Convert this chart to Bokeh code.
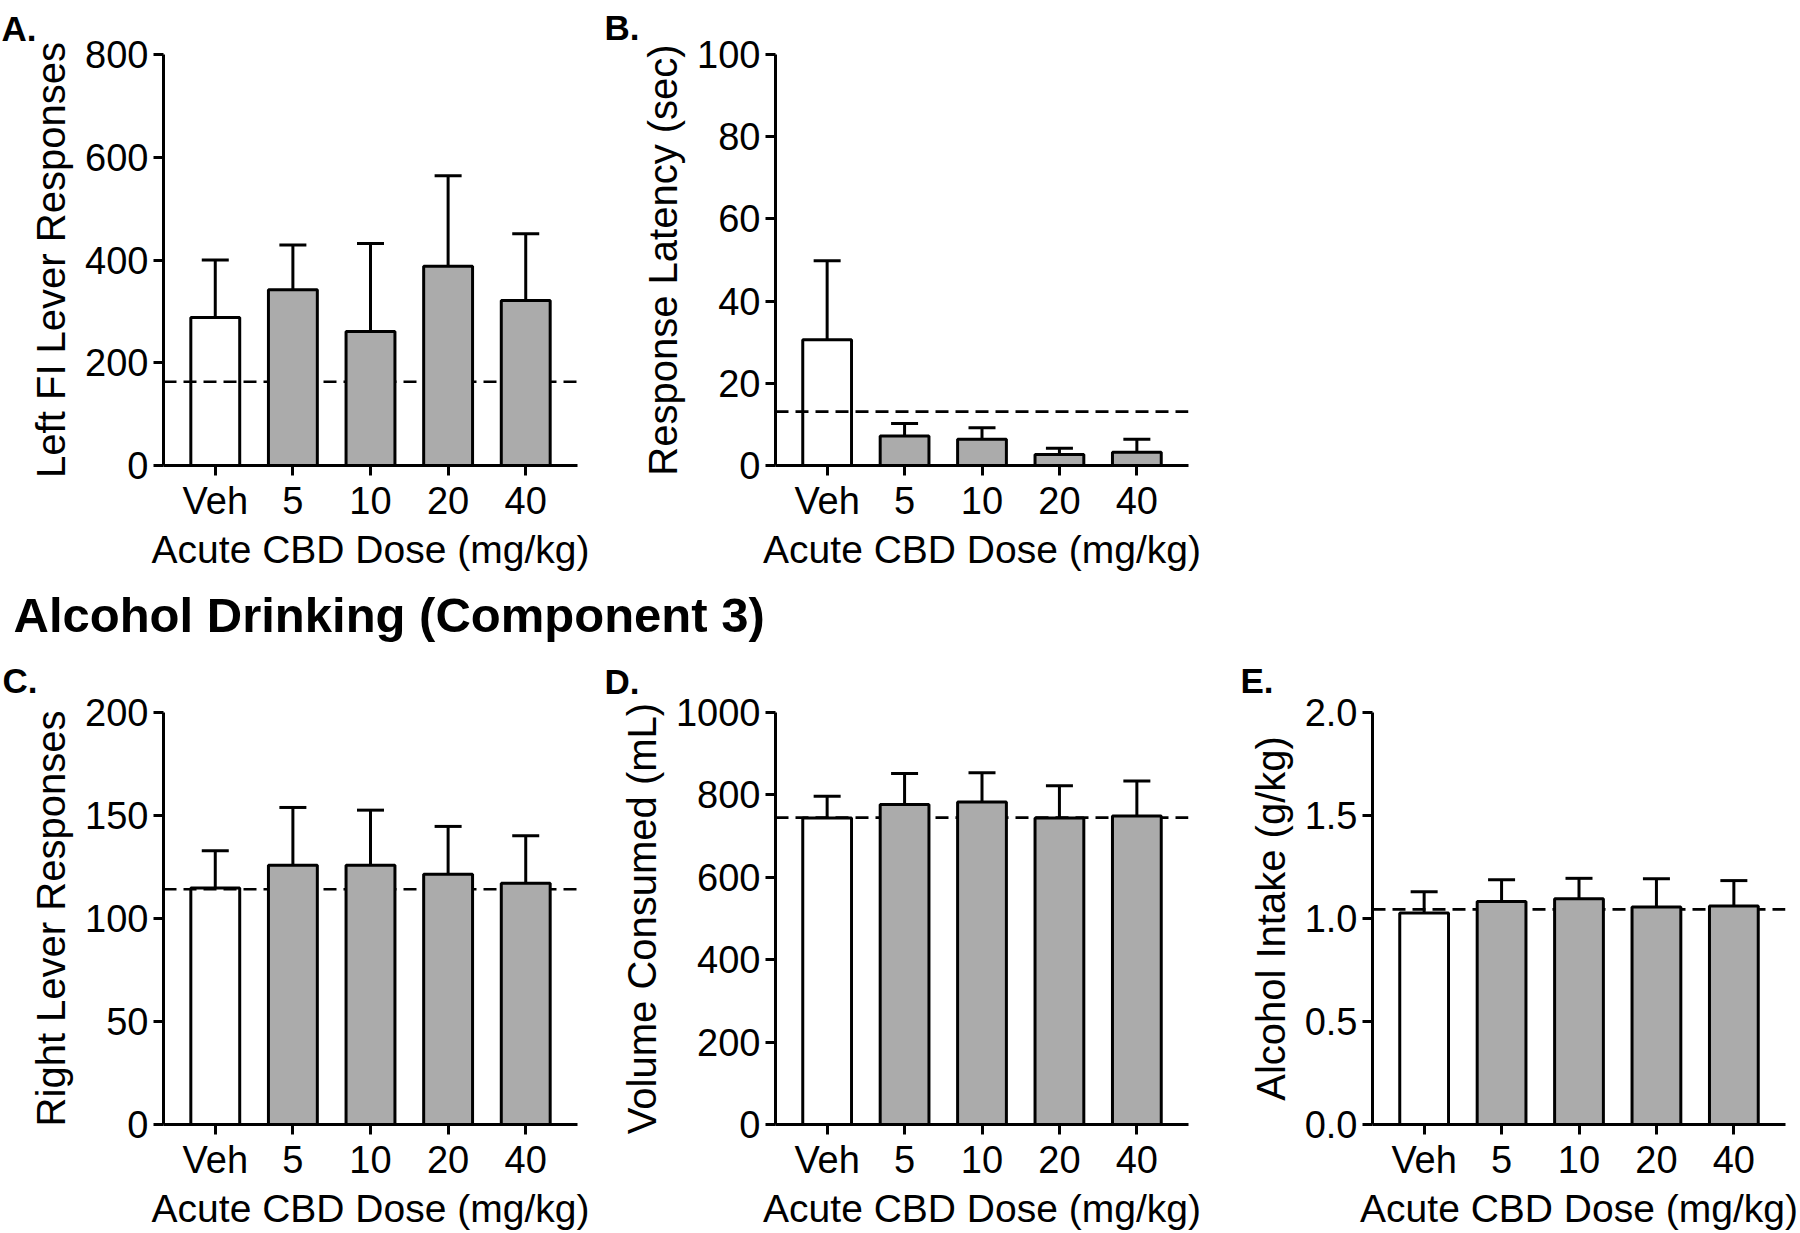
from bokeh.plotting import figure
from bokeh.layouts import column, row
from bokeh.models import ColumnDataSource, Span, Whisker, TeeHead, FixedTicker, Range1d, Title
from bokeh.core.properties import value
from bokeh.embed import file_html
from bokeh.resources import INLINE

# ---------------- data ----------------
doses = ["Veh", "5", "10", "20", "40"]

a_mean = [288, 342, 261, 388, 321]
a_upper = [400, 429, 432, 564, 451]
a_ref = 163

b_mean = [30.6, 7.2, 6.4, 2.7, 3.2]
b_upper = [49.8, 10.2, 9.2, 4.2, 6.4]
b_ref = 13.1

c_mean = [114.8, 125.8, 125.8, 121.5, 117.1]
c_upper = [132.9, 153.9, 152.6, 144.7, 140.2]
c_ref = 114.2

d_mean = [744, 777, 783, 744, 749]
d_upper = [797, 852, 854, 822, 834]
d_ref = 745

e_mean = [1.027, 1.083, 1.096, 1.056, 1.061]
e_upper = [1.130, 1.188, 1.195, 1.193, 1.184]
e_ref = 1.044

a_ticks = [0, 200, 400, 600, 800]
b_ticks = [0, 20, 40, 60, 80, 100]
c_ticks = [0, 50, 100, 150, 200]
d_ticks = [0, 200, 400, 600, 800, 1000]
e_ticks = [0, 0.5, 1.0, 1.5, 2.0]
e_tick_labels = ["0.0", "0.5", "1.0", "1.5", "2.0"]

xlabel = "Acute CBD Dose (mg/kg)"
section_title = "Alcohol Drinking (Component 3)"
FONT = "Liberation Sans"
GRAY = "#ababab"
MID = 0.3465  # strip text is anchored near its middle: baseline sits this many ems lower


def panel(width, height, ml, mr, mt, mb, ymax, ticks, ylabel, means, upper, ref,
          letter, letter_x, letter_standoff, tick_labels=None):
    n = len(doses)
    xs = list(range(n))
    p = figure(width=width, height=height,
               x_range=Range1d(-0.667, n - 1 + 0.667), y_range=Range1d(0, ymax),
               output_backend="svg", toolbar_location=None, tools="", title=None,
               min_border_left=ml, min_border_right=mr,
               min_border_top=mt, min_border_bottom=mb)
    p.outline_line_color = None
    p.xgrid.visible = False
    p.ygrid.visible = False
    p.background_fill_color = "white"
    p.border_fill_color = "white"

    # panel letter, as a left-aligned title pulled back to the figure's left edge
    p.add_layout(Title(text=letter, align="left", vertical_align="top",
                       offset=letter_x - ml, standoff=letter_standoff,
                       text_font=FONT, text_font_size="35px", text_font_style="bold",
                       text_color="black"), "above")

    # dashed reference line (behind the bars)
    p.add_layout(Span(location=ref, dimension="width", line_color="black",
                      line_width=2.7, line_dash="13 7", level="underlay"))

    fills = [None] + [GRAY] * (n - 1)
    src = ColumnDataSource(dict(x=xs, top=means, upper=upper, fill=fills))
    p.vbar(x="x", top="top", width=0.63, source=src, fill_color="fill",
           line_color="black", line_width=3)
    p.add_layout(Whisker(source=src, base="x", lower="top", upper="upper",
                         dimension="height", line_color="black", line_width=3,
                         upper_head=TeeHead(size=27, line_width=3, line_color="black"),
                         lower_head=None, level="annotation"))

    for ax in (p.xaxis[0], p.yaxis[0]):
        ax.axis_line_width = 3
        ax.axis_line_color = "black"
        ax.major_tick_line_width = 3
        ax.major_tick_line_color = "black"
        ax.major_tick_out = 10
        ax.major_tick_in = 0
        ax.minor_tick_line_color = None
        ax.major_label_text_font = FONT
        ax.major_label_text_font_size = "38px"
        ax.major_label_text_color = "black"
        ax.axis_label_text_font = FONT
        ax.axis_label_text_font_style = "normal"
        ax.axis_label_text_color = "black"

    p.xaxis.ticker = FixedTicker(ticks=xs)
    p.xaxis.major_label_overrides = {i: d for i, d in enumerate(doses)}
    p.xaxis.axis_label = xlabel
    p.xaxis.axis_label_text_font_size = "39px"
    p.xaxis.major_label_standoff = 4
    p.xaxis.axis_label_standoff = 3

    p.yaxis.ticker = FixedTicker(ticks=ticks)
    if tick_labels is not None:
        p.yaxis.major_label_overrides = {t: s for t, s in zip(ticks, tick_labels)}
    p.yaxis.axis_label = ylabel
    p.yaxis.axis_label_text_font_size = "40px"
    p.yaxis.major_label_standoff = 5
    p.yaxis.axis_label_standoff = 9
    return p


def strip(width, height, items):
    """A plain text strip: its frame fills the whole canvas (pixel ranges).
    items: (text, left x, baseline distance from the strip's top, font size px)"""
    s = figure(width=width, height=height, x_range=Range1d(0, width),
               y_range=Range1d(0, height), x_axis_type=None, y_axis_type=None,
               output_backend="svg", toolbar_location=None, tools="", title=None,
               min_border=0, min_border_left=0, min_border_right=0,
               min_border_top=0, min_border_bottom=0)
    s.outline_line_color = None
    s.grid.visible = False
    s.background_fill_color = "white"
    s.border_fill_color = "white"
    for txt, x, base_from_top, size in items:
        s.text(x=[x], y=[height - base_from_top + MID * size], text=[txt],
               text_font=value(FONT), text_font_size=f"{size}px",
               text_font_style="bold", text_color="black",
               text_baseline="alphabetic", text_align="left")
    return s


W = 1798
R1, S2, R2 = 585, 60, 587

pA = panel(600, R1, 163, 23, 53, 120, 800, a_ticks, "Left FI Lever Responses",
           a_mean, a_upper, a_ref, "A.", 1, 10)
pB = panel(605, R1, 175, 17, 54, 117, 100, b_ticks, "Response Latency (sec)",
           b_mean, b_upper, b_ref, "B.", 604 - 600, 11)

mid_strip = strip(W, S2, [(section_title, 13, 46, 49)])

pC = panel(600, R2, 163, 23, 67, 107, 200, c_ticks, "Right Lever Responses",
           c_mean, c_upper, c_ref, "C.", 2, 21)
pD = panel(605, R2, 175, 17, 66, 108, 1000, d_ticks, "Volume Consumed (mL)",
           d_mean, d_upper, d_ref, "D.", 604 - 600, 20)
pE = panel(593, R2, 167, 13, 67, 108, 2.0, e_ticks, "Alcohol Intake (g/kg)",
           e_mean, e_upper, e_ref, "E.", 1240 - 1205, 21, tick_labels=e_tick_labels)

layout = column(row(pA, pB), mid_strip, row(pC, pD, pE), spacing=0)

open("out.html", "w").write(file_html(layout, INLINE))
